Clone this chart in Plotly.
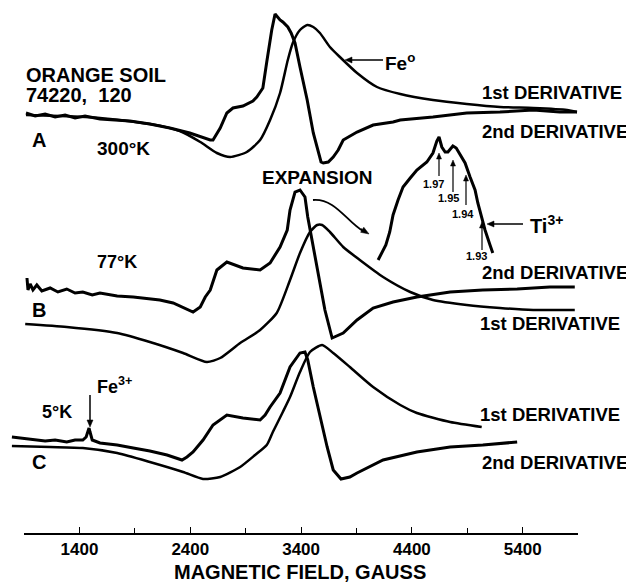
import math
import plotly.graph_objects as go

FONT = "Liberation Sans, Arial, sans-serif"

# ---------------- data (field in gauss, signal in arbitrary units) ----------------
# Spectrum A, 300 K
a2_field = [917, 1000, 1090, 1180, 1270, 1360, 1450, 1585, 1720, 1855,
            2035, 2215, 2395, 2490, 2580, 2605, 2670, 2730, 2785, 2875,
            2965, 3000, 3055, 3090, 3135, 3165, 3210, 3235, 3280, 3310,
            3345, 3390, 3455, 3510, 3555, 3580, 3600, 3645, 3690, 3735,
            3780, 3840, 3905, 4050, 4230, 4295, 4590, 4895, 5195, 5495,
            5735, 5890]
a2_signal = [2, -1, 1, -2, 0, -3, -1, -4, -5, -6,
             -9, -13, -18, -22, -25, -25, -13, 2, 7, 9,
             14, 18, 27, 53, 85, 101, 95, 93, 88, 82,
             72, 48, 15, -18, -38, -47, -48, -47, -42, -35,
             -25, -21, -17, -10, -7, -5, -2, 2, 3, 5,
             3, 3]
a1_field = [917, 1225, 1585, 2035, 2305, 2490, 2640, 2760, 2910, 3030,
            3120, 3210, 3280, 3325, 3390, 3455, 3510, 3570, 3660, 3750,
            3905, 4085, 4295, 4590, 4895, 5195, 5495, 5800, 5890]
a1_signal = [0, -1, -3, -9, -16, -27, -38, -42, -37, -25,
             -5, 22, 55, 72, 85, 90, 88, 82, 68, 58,
             42, 28, 21, 15, 11, 8, 7, 5, 3]

# Spectrum B, 77 K
b2_field = [926, 935, 955, 980, 1015, 1060, 1135, 1205, 1285, 1360,
            1430, 1515, 1585, 1740, 1885, 2035, 2125, 2245, 2350, 2425,
            2490, 2535, 2580, 2640, 2730, 2875, 3030, 3120, 3210, 3275,
            3300, 3345, 3390, 3435, 3460, 3510, 3570, 3615, 3680, 3780,
            3905, 4050, 4230, 4445, 4745, 5040, 5350, 5645, 5870]
b2_signal = [22, 10, 16, 10, 15, 9, 12, 8, 11, 7,
             8, 5, 7, 4, 3, 1, 0, -3, -8, -12,
             -7, 3, 10, 30, 38, 32, 30, 37, 53, 70,
             90, 108, 110, 103, 83, 53, 17, -10, -38, -33,
             -20, -8, -2, 3, 8, 10, 11, 13, 13]
b1_field = [910, 1285, 1740, 2035, 2335, 2550, 2670, 2850, 3030, 3180,
            3300, 3390, 3480, 3545, 3590, 3660, 3780, 3930, 4140, 4385,
            4590, 4895, 5195, 5495, 5870]
b1_signal = [-24, -27, -33, -42, -53, -62, -58, -43, -30, -13,
             20, 47, 68, 75, 75, 68, 53, 40, 23, 8,
             0, -5, -8, -10, -10]

# Expansion of the 77 K 2nd-derivative (drawn at higher gain)
exp_field = [4095, 4130, 4165, 4200, 4230, 4275, 4320, 4385, 4445, 4535,
             4590, 4625, 4645, 4670, 4700, 4725, 4770, 4800, 4835, 4880,
             4925, 4970, 4995, 5030, 5060, 5105, 5130]
exp_signal = [40, 48, 55, 68, 85, 100, 113, 122, 130, 138,
              147, 159, 163, 153, 148, 148, 154, 152, 145, 137,
              123, 110, 97, 83, 70, 55, 47]

# Spectrum C, 5 K
c2_field = [790, 865, 980, 1090, 1180, 1285, 1360, 1430, 1460, 1477,
            1486, 1495, 1515, 1585, 1740, 1885, 2035, 2190, 2260, 2325,
            2370, 2425, 2515, 2605, 2730, 2875, 3030, 3075, 3120, 3210,
            3300, 3390, 3435, 3460, 3510, 3570, 3635, 3690, 3760, 3840,
            3905, 4140, 4445, 4745, 5040, 5350]
c2_signal = [8, 7, 6, 4, 5, 3, 5, 5, 8, 15,
             17, 13, 5, 2, 0, -3, -6, -10, -13, -15,
             -12, -7, 5, 20, 30, 27, 25, 30, 38, 52,
             78, 92, 93, 85, 58, 28, -2, -25, -34, -32,
             -28, -15, -7, -2, 0, 3]
c1_field = [790, 1135, 1430, 1740, 2035, 2335, 2515, 2670, 2850, 2985,
            3090, 3145, 3235, 3300, 3390, 3480, 3590, 3690, 3840, 4050,
            4295, 4445, 4745, 5030]
c1_signal = [-1, -2, -3, -8, -17, -27, -34, -32, -22, -10,
             0, 13, 33, 48, 73, 93, 100, 92, 78, 58,
             40, 32, 23, 18]

offsets = {"A": 418, "B": 233, "C": 88}

tick_values = [1400, 2400, 3400, 4400, 5400]
tick_labels = ["1400", "2400", "3400", "4400", "5400"]

# ---------------- figure ----------------
# page body has an 8 px margin: figure is 626x574 drawn at (8, 8) of the window
FW, FH = 626, 574
PW, PH = 626, 525          # plot area (margins l=r=t=0, b=49)
OFF = 8

fig = go.Figure()


def add(field, signal, offset, width, smooth):
    fig.add_trace(go.Scatter(
        x=field, y=[offset + s for s in signal], mode="lines",
        line=dict(color="black", width=width,
                  shape="spline" if smooth else "linear",
                  smoothing=0.6 if smooth else None),
        hoverinfo="skip", showlegend=False))


add(a2_field, a2_signal, offsets["A"], 3, False)
add(a1_field, a1_signal, offsets["A"], 2.5, True)
add(b2_field, b2_signal, offsets["B"], 3, False)
add(b1_field, b1_signal, offsets["B"], 2.5, True)
add(exp_field, exp_signal, offsets["B"], 3, False)
add(c2_field, c2_signal, offsets["C"], 3, False)
add(c1_field, c1_signal, offsets["C"], 2.5, True)

# empty trace so that the field axis (x2) is drawn
fig.add_trace(go.Scatter(x=[], y=[], xaxis="x2", yaxis="y", showlegend=False,
                         hoverinfo="skip"))


def P(wx, wy):
    """window pixel -> paper coords"""
    return (wx - OFF) / PW, (PH + OFF - wy) / PH


def ann(text, px, py, size, xanchor="left", yanchor="middle"):
    x, y = P(px, py)
    return dict(text=f"<b>{text}</b>", x=x, y=y, xref="paper", yref="paper",
                xanchor=xanchor, yanchor=yanchor, showarrow=False,
                font=dict(family=FONT, size=size, color="black"))


def arrow(tip, tail, width=1.5, head=7.0, half=3.0):
    """arrow drawn with shapes: shaft line + filled triangular head"""
    dx, dy = tip[0] - tail[0], tip[1] - tail[1]
    n = math.hypot(dx, dy)
    ux, uy = dx / n, dy / n
    bx, by = tip[0] - head * ux, tip[1] - head * uy
    l1 = (bx - half * uy, by + half * ux)
    l2 = (bx + half * uy, by - half * ux)
    t0, t1 = P(*tail), P(bx, by)
    a, b, c = P(*tip), P(*l1), P(*l2)
    return [
        dict(type="line", xref="paper", yref="paper", x0=t0[0], y0=t0[1],
             x1=t1[0], y1=t1[1], line=dict(color="black", width=width)),
        dict(type="path", xref="paper", yref="paper",
             path=f"M {a[0]},{a[1]} L {b[0]},{b[1]} L {c[0]},{c[1]} Z",
             fillcolor="black", line=dict(color="black", width=0.5)),
    ]


annotations = [
    ann("ORANGE SOIL", 24, 75, 20),
    ann("74220,\u00a0 120", 24, 95, 20),
    ann("A", 30, 140, 20),
    ann("300°K", 95, 148, 19),
    ann("Fe<sup>o</sup>", 383, 62, 19),
    ann("1st DERIVATIVE", 480, 92, 18.5),
    ann("2nd DERIVATIVE", 480, 131, 18.5),
    ann("EXPANSION", 317, 177, 19, "center"),
    ann("77°K", 95, 262, 18),
    ann("B", 30, 310, 20),
    ann("2nd DERIVATIVE", 480, 272, 18.5),
    ann("1st DERIVATIVE", 478, 323, 18.5),
    ann("5°K", 40, 412, 18),
    ann("C", 30, 462, 20),
    ann("Fe<sup>3+</sup>", 95, 385, 18),
    ann("1st DERIVATIVE", 478, 414, 18.5),
    ann("2nd DERIVATIVE", 480, 462, 18.5),
    ann("1.97", 433, 184, 11, "center"),
    ann("1.95", 448, 198, 11, "center"),
    ann("1.94", 463, 214, 11, "center"),
    ann("1.93", 476, 256, 11, "center"),
    ann("Ti<sup>3+</sup>", 528, 224, 20),
    ann("MAGNETIC FIELD, GAUSS", 300, 572, 20, "center"),
]

shapes = []
shapes += arrow((345, 60), (383, 60))
shapes += arrow((90, 427), (90, 395))
shapes += arrow((439, 153), (439, 176), 1.2, 6, 2.5)
shapes += arrow((453, 160), (453, 192), 1.2, 6, 2.5)
shapes += arrow((466, 175), (466, 205), 1.2, 6, 2.5)
shapes += arrow((482, 222), (482, 250), 1.2, 6, 2.5)
shapes += arrow((487, 224), (523, 224))
shapes += arrow((369, 234), (361, 229), 1.8, 8, 3)

p0, c1, c2, p1 = P(313, 200), P(335, 198), P(347, 222), P(363, 231)
curve = f"M {p0[0]},{p0[1]} C {c1[0]},{c1[1]} {c2[0]},{c2[1]} {p1[0]},{p1[1]}"
shapes.append(dict(type="path", path=curve, xref="paper", yref="paper",
                   line=dict(color="black", width=1.8)))

# field axis spans 900-5900 G, plotted from window x 24.1 to 578.1
x_lo = 900 - (24.1 - OFF) * 5000 / 554.0
x_hi = 5900 + (OFF + PW - 578.1) * 5000 / 554.0

fig.update_layout(
    width=FW, height=FH,
    margin=dict(l=0, r=0, t=0, b=FH - PH),
    paper_bgcolor="white", plot_bgcolor="rgba(0,0,0,0)",
    showlegend=False,
    xaxis=dict(range=[x_lo, x_hi], visible=False, domain=[0, 1], fixedrange=True),
    yaxis=dict(range=[0, PH], visible=False, domain=[0, 1], fixedrange=True),
    xaxis2=dict(domain=[(24.1 - OFF) / PW, (578.1 - OFF) / PW], range=[900, 5900],
                anchor="y", showline=True, linecolor="black", linewidth=1.5,
                ticks="inside", ticklen=6, tickwidth=1.2, tickcolor="black",
                tickmode="array", tickvals=tick_values, ticktext=tick_labels,
                minor=dict(tick0=900, dtick=500, ticks="inside", ticklen=5,
                           tickwidth=1.2, tickcolor="black", showgrid=False),
                tickfont=dict(family=FONT, size=17, color="black", weight="bold"),
                showgrid=False, zeroline=False, fixedrange=True),
    annotations=annotations,
    shapes=shapes,
)

fig.write_html("out.html")
